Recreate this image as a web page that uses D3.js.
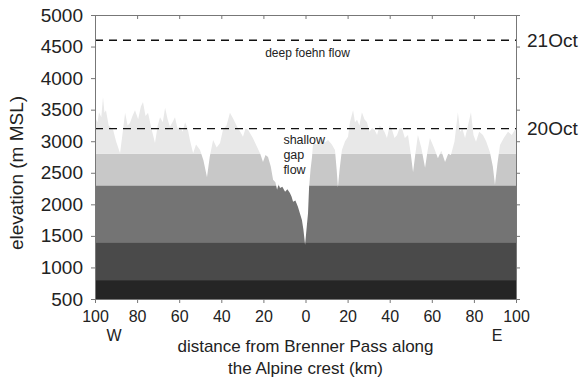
<!DOCTYPE html>
<html lang="en">
<head>
    <meta charset="UTF-8">
    <title>Brenner Pass crest profile</title>
    <script src="https://d3js.org/d3.v7.min.js"></script>
    <style>
        body { margin: 0; background: #fff; }
        svg { font-family: "Liberation Sans", Arial, sans-serif; }
        .axis path, .axis line { stroke: #777; }
        .axis text { fill: #222; font-size: 16px; }
        .yaxis text { font-size: 19px; }
    </style>
</head>
<body>
<svg width="581" height="381"></svg>
<script>
    // distance along crest (km, negative = west of the pass) and elevation (m MSL)
    const distKm = [-100, -98.8, -98.1, -97.0, -96.2, -95.5, -94.8, -93.5, -91.4, -90.0, -88.1, -87.0,
        -85.7, -84.5, -83.4, -82.2, -81.0, -79.5, -78.2, -77.2, -76.0, -74.8, -73.2, -71.5, -70.2,
        -69.1, -67.8, -66.7, -65.5, -64.4, -63.2, -62.0, -60.8, -59.6, -58.4, -57.2, -56.0, -54.9,
        -53.4, -52.0, -50.1, -48.5, -46.8, -45.5, -43.9, -42.2, -40.6, -39.2, -37.5, -35.9, -34.2,
        -32.5, -31.0, -29.7, -28.5, -27.3, -25.0, -23.0, -21.5, -20.2, -19.0, -17.8, -16.5, -15.4,
        -14.3, -13.5, -12.8, -12.1, -11.0, -9.7, -8.6, -7.4, -6.6, -5.9, -4.8, -3.6, -2.6, -1.7,
        -1.0, -0.2, 0.6, 1.2, 1.7, 2.4, 3.1, 3.6, 5.5, 7.8, 9.2, 10.7, 12.5, 14.0, 14.8, 15.4,
        16.2, 17.3, 18.8, 20.2, 21.1, 22.6, 23.5, 24.5, 25.6, 26.8, 28.0, 29.2, 30.4, 31.6, 32.8,
        34.0, 35.2, 36.3, 37.5, 38.7, 40.0, 41.1, 42.3, 43.5, 44.6, 45.8, 47.2, 48.7, 50.0, 51.1,
        52.2, 53.4, 55.0, 56.8, 58.0, 59.1, 61.0, 62.9, 64.5, 66.3, 67.8, 69.1, 70.8, 72.4, 73.5,
        74.5, 75.8, 77.2, 78.6, 79.8, 81.0, 82.5, 84.3, 85.8, 87.6, 89.0, 90.0, 91.2, 92.4, 94.2,
        96.2, 98.0, 100];
    const elevM = [3380, 3300, 3460, 3380, 3700, 3450, 3490, 3250, 3180, 3000, 2810, 3100,
        3450, 3250, 3290, 3400, 3490, 3350, 3550, 3620, 3400, 3450, 3200, 2970, 3250,
        3380, 3300, 3530, 3350, 3230, 3300, 3380, 3200, 3230, 3150, 3300, 3200, 3020,
        2810, 2950, 2860, 2700, 2430, 2750, 3020, 2900, 2970, 3180, 3250, 3450, 3350,
        3230, 3150, 3070, 3200, 3180, 3050, 2910, 2800, 2670, 2780, 2750, 2600, 2390,
        2350, 2230, 2320, 2260, 2280, 2200, 2240, 2180, 2120, 2040, 2060, 1960, 1850, 1750,
        1600, 1360, 1650, 1860, 2270, 2550, 2750, 2970, 2950, 3050, 2980, 3020, 2950, 2860, 2550, 2270,
        2550, 2860, 3000, 3070, 3300, 3490, 3300, 3340, 3250, 3460, 3350, 3300, 3150, 3210, 3180,
        3100, 3250, 3210, 3150, 3050, 3250, 3180, 3050, 3100, 3200, 3210, 3050, 3100, 2800, 2510,
        2800, 3100, 2900, 2580, 2850, 3050, 2900, 2730, 2850, 2670, 2800, 2780, 3000, 3460, 3150,
        3200, 3050, 3250, 3460, 3100, 2990, 3150, 3100, 3000, 2830, 2600, 2310, 2650, 2940, 3050,
        3150, 3100, 3210];

    // elevation bands [bottom, top] and their grey shades
    const bandLo = [500, 800, 1400, 2300, 2800];
    const bandHi = [800, 1400, 2300, 2800, 5000];
    const bandFill = ["#252525", "#4a4a4a", "#747474", "#c8c8c8", "#e8e8e8"];

    // flow depth levels (m) with their labels on the right axis
    const flowLevels = [4600, 3200];
    const flowDates = ["21Oct", "20Oct"];

    const xTicks = [-100, -80, -60, -40, -20, 0, 20, 40, 60, 80, 100];
    const yTicks = [500, 1000, 1500, 2000, 2500, 3000, 3500, 4000, 4500, 5000];

    const svg = d3.select("svg");
    const margin = { top: 15, right: 65, bottom: 82, left: 95 };
    const width = 581 - margin.left - margin.right;
    const height = 381 - margin.top - margin.bottom;
    const g = svg.append("g").attr("transform", `translate(${margin.left},${margin.top})`);

    const x = d3.scaleLinear().domain([-100, 100]).range([0, width]);
    const y = d3.scaleLinear().domain([500, 5000]).range([height, 0]);

    const profile = distKm.map((d, i) => [d, elevM[i]]);

    // terrain clip, then fill bands inside it
    const area = d3.area().x(d => x(d[0])).y0(y(500)).y1(d => y(d[1]));
    g.append("clipPath").attr("id", "terrain")
        .append("path").attr("d", area(profile));

    g.append("g").attr("clip-path", "url(#terrain)")
        .selectAll("rect")
        .data(bandLo)
        .join("rect")
        .attr("x", 0)
        .attr("width", width)
        .attr("y", (d, i) => y(bandHi[i]))
        .attr("height", (d, i) => y(d) - y(bandHi[i]))
        .attr("fill", (d, i) => bandFill[i]);

    // dashed flow depth lines
    g.selectAll(".flow")
        .data(flowLevels)
        .join("line")
        .attr("class", "flow")
        .attr("x1", 0).attr("x2", width)
        .attr("y1", d => y(d)).attr("y2", d => y(d))
        .attr("stroke", "#111")
        .attr("stroke-width", 1.3)
        .attr("stroke-dasharray", "8,6");

    // axes
    g.append("g").attr("class", "axis yaxis")
        .call(d3.axisLeft(y).tickValues(yTicks).tickSize(4).tickPadding(8).tickFormat(d3.format("d")));

    g.append("g").attr("class", "axis")
        .attr("transform", `translate(0,${height})`)
        .call(d3.axisBottom(x).tickValues(xTicks).tickSize(4).tickPadding(8).tickFormat(d => Math.abs(d)));

    g.append("g").attr("class", "axis")
        .call(d3.axisBottom(x).tickValues(xTicks).tickSize(4).tickFormat(""));

    const right = g.append("g").attr("class", "axis")
        .attr("transform", `translate(${width},0)`)
        .call(d3.axisRight(y).tickValues(yTicks).tickSize(4).tickFormat(""));

    right.selectAll(".date")
        .data(flowLevels)
        .join("text")
        .attr("class", "date")
        .attr("x", 11)
        .attr("y", d => y(d))
        .attr("dy", "0.35em")
        .style("font-size", "19px")
        .style("fill", "#222")
        .text((d, i) => flowDates[i]);

    // annotations
    g.append("text")
        .attr("x", x(0) + 2)
        .attr("y", y(4600) + 17)
        .attr("text-anchor", "middle")
        .style("font-size", "12px")
        .style("fill", "#222")
        .text("deep foehn flow");

    g.append("text")
        .attr("x", x(-10.5))
        .attr("y", y(3200) + 15)
        .style("font-size", "12.5px")
        .style("fill", "#222")
        .selectAll("tspan")
        .data(["shallow", "gap", "flow"])
        .join("tspan")
        .attr("x", x(-10.5))
        .attr("dy", (d, i) => i === 0 ? 0 : 15)
        .text(d => d);

    g.append("text")
        .attr("x", x(-91))
        .attr("y", height + 42)
        .attr("text-anchor", "middle")
        .style("font-size", "16px").style("fill", "#222")
        .text("W");

    g.append("text")
        .attr("x", x(91))
        .attr("y", height + 42)
        .attr("text-anchor", "middle")
        .style("font-size", "16px").style("fill", "#222")
        .text("E");

    // axis titles
    g.append("text")
        .attr("x", x(0))
        .attr("y", height + 53)
        .attr("text-anchor", "middle")
        .style("font-size", "17px").style("fill", "#222")
        .selectAll("tspan")
        .data(["distance from Brenner Pass along", "the Alpine crest (km)"])
        .join("tspan")
        .attr("x", x(0))
        .attr("dy", (d, i) => i === 0 ? 0 : 22)
        .text(d => d);

    g.append("text")
        .attr("transform", `translate(${-72},${height / 2 + 16}) rotate(-90)`)
        .attr("text-anchor", "middle")
        .style("font-size", "19px").style("fill", "#222")
        .text("elevation (m MSL)");
</script>
</body>
</html>
